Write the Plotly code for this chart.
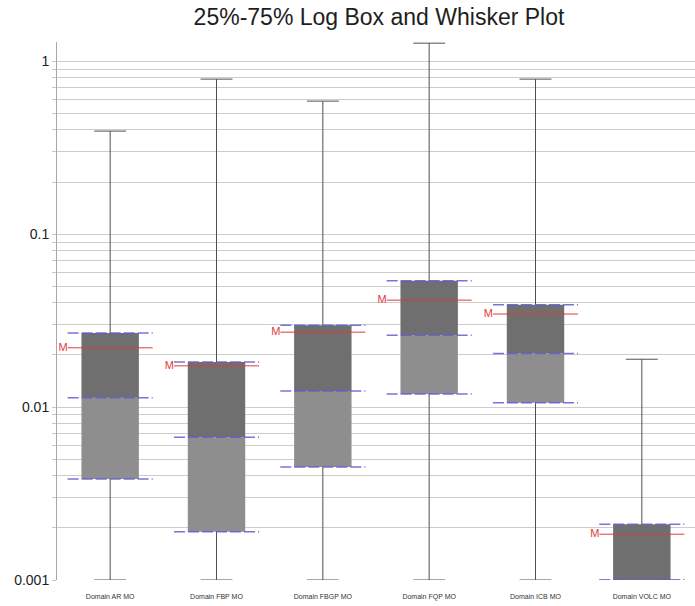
import numpy as np
import plotly.graph_objects as go

# Summary statistics per domain (log-scale box and whisker)
categories = ["Domain AR MO", "Domain FBP MO", "Domain FBGP MO",
              "Domain FQP MO", "Domain ICB MO", "Domain VOLC MO"]
whisker_min = [0.001, 0.001, 0.001, 0.001, 0.001, 0.001]
q1 = [0.00384, 0.0019, 0.0045, 0.0119, 0.0106, 0.001]
median = [0.0113, 0.00668, 0.0124, 0.026, 0.0204, 0.001]
q3 = [0.0268, 0.0182, 0.0297, 0.0537, 0.039, 0.0021]
whisker_max = [0.394, 0.787, 0.587, 1.27, 0.787, 0.0189]
mean = [0.0220, 0.0173, 0.0271, 0.0415, 0.0345, 0.00184]

# Style
BOX_HALF = 0.27
CAP_HALF = 0.15
LINE_HALF = 0.40
UPPER_COLOR = "#6f6f6f"
LOWER_COLOR = "#8e8e8e"
WHISKER_COLOR = "#505050"
QUART_COLOR = "#5d5dd8"
MEAN_COLOR = "#e03a3a"

fig = go.Figure()

for i in range(len(categories)):
    # whisker stem and caps
    fig.add_trace(go.Scatter(
        x=[i, i, None, i - CAP_HALF, i + CAP_HALF, None, i - CAP_HALF, i + CAP_HALF],
        y=[whisker_min[i], whisker_max[i], None, whisker_max[i], whisker_max[i], None,
           whisker_min[i], whisker_min[i]],
        mode="lines", line=dict(color=WHISKER_COLOR, width=1),
        hoverinfo="skip", showlegend=False))

for i in range(len(categories)):
    # lower half of the box (Q1 -> median)
    fig.add_trace(go.Scatter(
        x=[i - BOX_HALF, i + BOX_HALF, i + BOX_HALF, i - BOX_HALF, i - BOX_HALF],
        y=[q1[i], q1[i], median[i], median[i], q1[i]],
        mode="lines", fill="toself", fillcolor=LOWER_COLOR,
        line=dict(width=0), hoverinfo="skip", showlegend=False))
    # upper half of the box (median -> Q3)
    fig.add_trace(go.Scatter(
        x=[i - BOX_HALF, i + BOX_HALF, i + BOX_HALF, i - BOX_HALF, i - BOX_HALF],
        y=[median[i], median[i], q3[i], q3[i], median[i]],
        mode="lines", fill="toself", fillcolor=UPPER_COLOR,
        line=dict(width=0), hoverinfo="skip", showlegend=False))

for i in range(len(categories)):
    # dashed quartile / median markers
    xs, ys = [], []
    for v in (q1[i], median[i], q3[i]):
        xs += [i - LINE_HALF, i + LINE_HALF, None]
        ys += [v, v, None]
    fig.add_trace(go.Scatter(
        x=xs, y=ys, mode="lines",
        line=dict(color=QUART_COLOR, width=1.5, dash="11px,3px"),
        opacity=0.85, hoverinfo="skip", showlegend=False))
    # mean line
    fig.add_trace(go.Scatter(
        x=[i - LINE_HALF, i + LINE_HALF], y=[mean[i], mean[i]], mode="lines",
        line=dict(color=MEAN_COLOR, width=1), hoverinfo="skip", showlegend=False))

# "M" labels at the left end of each mean line
fig.add_trace(go.Scatter(
    x=[i - LINE_HALF for i in range(len(categories))], y=mean,
    mode="text", text=["M"] * len(categories), textposition="middle left",
    textfont=dict(family="Liberation Sans, Arial, sans-serif", size=11, color=MEAN_COLOR),
    hoverinfo="skip", showlegend=False))

# log gridlines at every 1..9 multiple, labels only at decades
grid_vals, grid_text = [], []
for e in range(-3, 1):
    for d in range(1, 10):
        v = d * 10.0 ** e
        if v > 1.3:
            break
        grid_vals.append(v)
        grid_text.append(("%g" % v) if d == 1 else "")

fig.update_layout(
    width=695, height=606,
    margin=dict(l=57, r=0, t=42, b=26),
    paper_bgcolor="white", plot_bgcolor="white",
    title=dict(text="25%-75% Log Box and Whisker Plot",
               font=dict(family="Liberation Sans, Arial, sans-serif", size=23, color="#1e1e1e"),
               x=379 / 695, xref="container", xanchor="center",
               y=1 - 17 / 606, yref="container", yanchor="middle"),
    xaxis=dict(range=[-0.5, len(categories) - 0.5], tickvals=list(range(len(categories))),
               ticktext=categories, showgrid=False, zeroline=False, showline=False,
               ticks="outside", ticklen=10, tickcolor="rgba(0,0,0,0)",
               tickfont=dict(family="Liberation Sans, Arial, sans-serif", size=7, color="#333")),
    yaxis=dict(type="log", range=[-3, np.log10(1.29)], tickvals=grid_vals, ticktext=grid_text,
               showgrid=True, gridcolor="#cdcdcd", gridwidth=1, zeroline=False,
               showline=True, linecolor="#a8a8a8", linewidth=1,
               ticks="outside", ticklen=4, tickcolor="#c8c8c8",
               tickfont=dict(family="Liberation Sans, Arial, sans-serif", size=14, color="#222")),
)

fig.write_html("out.html")
